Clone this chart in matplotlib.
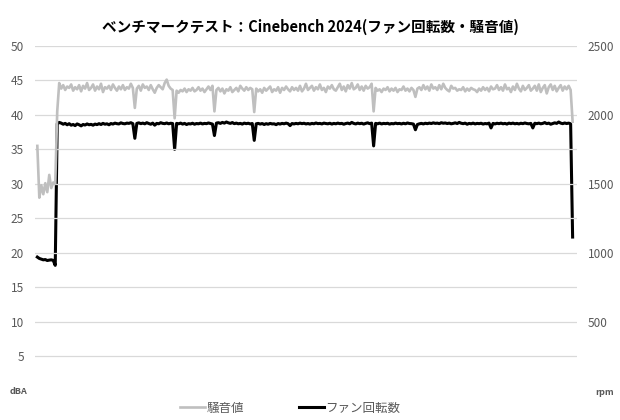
import numpy as np
import matplotlib
matplotlib.use("Agg")
import matplotlib.pyplot as plt

plt.rcParams['font.family'] = ['Noto Sans CJK JP', 'DejaVu Sans']

title = "ベンチマークテスト：Cinebench 2024(ファン回転数・騒音値)"
label_noise = "騒音値"
label_fan = "ファン回転数"

# noise level (dBA), one sample per step
noise = [
    35.5, 28.0, 29.8, 28.5, 30.1, 28.8, 31.3, 29.4, 30.2, 30.0,
    40.5, 44.6, 43.8, 44.3, 43.6, 44.1, 43.9, 44.4, 43.5, 44.0, 43.7, 44.3, 43.4, 44.2, 43.8, 44.6, 43.6, 43.9, 44.4, 43.5,
    44.1, 43.7, 44.5, 43.3, 44.0, 43.8, 44.2, 43.6, 44.4, 43.9, 43.5, 44.1, 43.7, 44.3, 43.6, 44.0, 43.8, 44.5, 43.9, 41.0,
    43.8, 44.2, 43.5, 44.4, 43.9, 44.1, 43.6, 44.3, 43.7, 43.2, 43.9, 44.3, 44.0, 43.7, 44.6, 45.1, 44.2, 43.8, 43.6, 39.5,
    43.5, 43.2, 43.6, 43.4, 43.8, 43.3, 43.7, 43.5, 43.9, 43.4, 43.6, 44.0, 43.5, 43.8, 43.3, 43.7, 44.1, 43.6, 44.2, 40.5,
    43.6, 43.9, 43.4, 43.8, 43.1, 43.7, 43.5, 44.0, 43.3, 43.6, 43.9, 43.4, 44.2, 43.8, 43.5, 44.0, 43.6, 43.9, 43.7, 40.4,
    43.8, 43.4, 43.7, 43.2, 43.9, 43.5, 43.8, 44.1, 43.3, 43.7, 43.5, 44.0, 43.2, 43.9, 43.6, 44.1, 43.7, 43.4, 44.0, 43.6,
    43.9, 43.5, 44.2, 43.4, 43.8, 44.5, 43.6, 43.9, 44.2, 43.5, 44.0, 43.7, 44.4, 43.6, 43.9, 43.3, 44.1, 43.8, 44.3, 43.7,
    43.5, 44.0, 44.5, 43.6, 44.1, 43.4, 44.3, 43.8, 44.6, 43.7, 43.9, 44.4, 43.6, 44.1, 43.5, 44.2, 43.8, 44.0, 44.5, 40.5,
    43.9, 43.5, 43.7, 43.3, 43.8, 43.6, 44.0, 43.4, 43.8, 43.5, 43.9, 43.3, 43.7, 43.6, 44.1, 43.5, 43.8, 43.4, 43.9, 43.6,
    42.6, 43.8, 44.0, 43.6, 44.3, 43.7, 44.1, 43.5, 44.4, 43.8, 44.0, 43.6, 44.3, 43.7, 44.5, 43.9, 43.6, 43.4, 44.2, 43.8,
    43.9, 43.5, 43.7, 43.6, 44.0, 43.4, 43.8, 43.5, 43.9, 43.7, 43.6, 43.3, 43.8, 43.5, 44.0, 43.6, 43.9, 43.4, 44.1, 43.7,
    43.8, 44.3, 43.6, 44.0, 43.5, 44.4, 43.7, 43.9, 43.3, 44.1, 43.6, 44.5, 43.8, 43.4, 44.2, 43.6, 43.9, 44.3, 43.5, 43.8,
    44.2, 43.5, 44.4, 43.3, 43.9, 44.3, 43.1, 44.0, 44.4, 43.6, 44.2, 43.4, 43.9, 44.3, 43.5, 44.1, 43.7, 44.2, 43.6, 39.0,
]

# fan speed (rpm)
fan = [
    970, 960, 955, 950, 952, 945, 948, 950, 946, 910,
    1935, 1945, 1940, 1932, 1938, 1928, 1936, 1925, 1930, 1922, 1934, 1928, 1920, 1930, 1926, 1934, 1928, 1931, 1925, 1933,
    1929, 1936, 1930, 1938, 1932, 1935, 1928, 1937, 1933, 1940, 1936, 1934, 1942, 1937, 1935, 1940, 1938, 1943, 1936, 1830,
    1938, 1942, 1936, 1940, 1935, 1943, 1937, 1932, 1940, 1925, 1938, 1935, 1943, 1938, 1936, 1941, 1935, 1939, 1937, 1750,
    1938, 1935, 1940, 1933, 1938, 1930, 1936, 1934, 1939, 1932, 1937, 1935, 1940, 1934, 1938, 1936, 1941, 1937, 1933, 1850,
    1940, 1943, 1938, 1945, 1940, 1948, 1942, 1938, 1944, 1936, 1940, 1935, 1938, 1933, 1940, 1936, 1939, 1934, 1937, 1815,
    1935, 1938, 1933, 1937, 1930, 1936, 1932, 1938, 1934, 1935, 1929, 1937, 1933, 1938, 1935, 1940, 1936, 1922, 1937, 1934,
    1938, 1935, 1940, 1936, 1939, 1934, 1937, 1933, 1938, 1935, 1941, 1936, 1938, 1934, 1940, 1937, 1935, 1939, 1933, 1938,
    1935, 1940, 1936, 1938, 1932, 1937, 1940, 1935, 1945, 1938, 1934, 1940, 1936, 1939, 1933, 1938, 1942, 1936, 1940, 1775,
    1938, 1935, 1940, 1934, 1938, 1936, 1939, 1933, 1937, 1935, 1940, 1936, 1938, 1934, 1939, 1935, 1941, 1937, 1936, 1933,
    1892, 1930, 1935, 1938, 1934, 1939, 1936, 1940, 1937, 1942, 1938, 1940, 1936, 1943, 1939, 1941, 1937, 1940, 1935, 1938,
    1942, 1937, 1945, 1939, 1936, 1940, 1932, 1938, 1935, 1940, 1934, 1938, 1936, 1939, 1933, 1937, 1935, 1940, 1905, 1938,
    1934, 1939, 1936, 1940, 1935, 1938, 1933, 1940, 1936, 1940, 1935, 1938, 1934, 1939, 1936, 1941, 1937, 1935, 1938, 1905,
    1939, 1936, 1940, 1935, 1938, 1944, 1936, 1940, 1932, 1937, 1942, 1938, 1948, 1940, 1936, 1941, 1937, 1940, 1935, 1115,
]

left_ticks = [5, 10, 15, 20, 25, 30, 35, 40, 45, 50]
right_ticks = [500, 1000, 1500, 2000, 2500]

x = np.arange(len(noise))
grey = '#595959'

fig = plt.figure(figsize=(6.2, 4.2), dpi=100)
ax = fig.add_axes([0.057, 0.069, 0.873, 0.822])
ax2 = ax.twinx()

ax.plot(x, noise, color='#bfbfbf', lw=1.9, label=label_noise, zorder=3)
ax2.plot(x, fan, color='black', lw=2.2, label=label_fan, zorder=3)

ax.set_xlim(-1, len(noise) + 1)
ax.set_ylim(0, 50)
ax2.set_ylim(0, 2500)
ax.set_yticks(left_ticks)
ax2.set_yticks(right_ticks)
ax.set_xticks([])
ax.grid(axis='y', color='#d9d9d9', lw=0.9)
ax.set_axisbelow(True)
ax.set_zorder(ax2.get_zorder() + 1)
ax.patch.set_visible(False)

for a in (ax, ax2):
    for s in a.spines.values():
        s.set_visible(False)
    a.tick_params(length=0, labelsize=8.5, labelcolor=grey, pad=8)

ax.text(-0.047, 0.0, "dBA", transform=ax.transAxes, fontsize=6.5,
        color=grey, ha='left', va='center', fontweight='bold')
ax2.text(1.035, -0.005, "rpm", transform=ax.transAxes, fontsize=6.5,
         color=grey, ha='left', va='center', fontweight='bold')

fig.suptitle(title, x=0.5, y=0.955, fontsize=10.5, fontweight='bold')

h1, l1 = ax.get_legend_handles_labels()
h2, l2 = ax2.get_legend_handles_labels()
fig.legend(h1 + h2, l1 + l2, loc='lower center', bbox_to_anchor=(0.468, -0.014),
           ncol=2, frameon=False, fontsize=9, handlelength=2.0,
           handletextpad=0.1, columnspacing=4.4, labelcolor=grey)

fig.savefig("out.png", dpi=100)
